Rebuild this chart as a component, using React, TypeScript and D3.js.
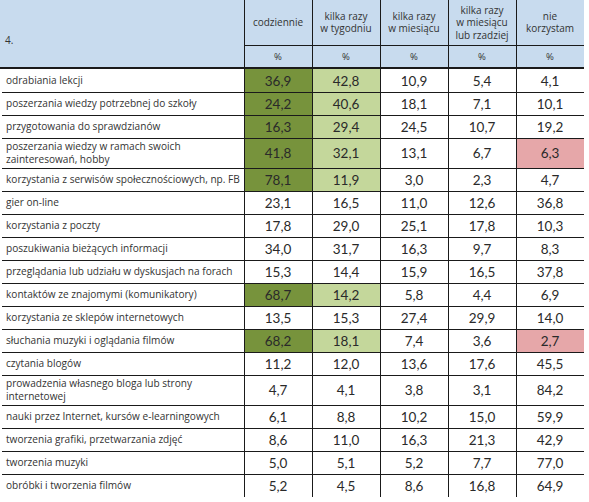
import React from "react";
import * as d3 from "d3";

const title = "4.";
const columns = ["codziennie", "kilka razy\nw tygodniu", "kilka razy\nw miesiącu", "kilka razy\nw miesiącu\nlub rzadziej", "nie\nkorzystam"];
const unitLabel = "%";
const categories = [
  "odrabiania lekcji",
  "poszerzania wiedzy potrzebnej do szkoły",
  "przygotowania do sprawdzianów",
  "poszerzania wiedzy w ramach swoich\nzainteresowań, hobby",
  "korzystania z serwisów społecznościowych, np. FB",
  "gier on-line",
  "korzystania z poczty",
  "poszukiwania bieżących informacji",
  "przeglądania lub udziału w dyskusjach na forach",
  "kontaktów ze znajomymi (komunikatory)",
  "korzystania ze sklepów internetowych",
  "słuchania muzyki i oglądania filmów",
  "czytania blogów",
  "prowadzenia własnego bloga lub strony\ninternetowej",
  "nauki przez Internet, kursów e-learningowych",
  "tworzenia grafiki, przetwarzania zdjęć",
  "tworzenia muzyki",
  "obróbki i tworzenia filmów",
];
const daily = [36.9, 24.2, 16.3, 41.8, 78.1, 23.1, 17.8, 34.0, 15.3, 68.7, 13.5, 68.2, 11.2, 4.7, 6.1, 8.6, 5.0, 5.2];
const weekly = [42.8, 40.6, 29.4, 32.1, 11.9, 16.5, 29.0, 31.7, 14.4, 14.2, 15.3, 18.1, 12.0, 4.1, 8.8, 11.0, 5.1, 4.5];
const monthly = [10.9, 18.1, 24.5, 13.1, 3.0, 11.0, 25.1, 16.3, 15.9, 5.8, 27.4, 7.4, 13.6, 3.8, 10.2, 16.3, 5.2, 8.6];
const rarely = [5.4, 7.1, 10.7, 6.7, 2.3, 12.6, 17.8, 9.7, 16.5, 4.4, 29.9, 3.6, 17.6, 3.1, 15.0, 21.3, 7.7, 16.8];
const never = [4.1, 10.1, 19.2, 6.3, 4.7, 36.8, 10.3, 8.3, 37.8, 6.9, 14.0, 2.7, 45.5, 84.2, 59.9, 42.9, 77.0, 64.9];
// rows highlighted as most frequently used (daily + weekly), and rows with lowest "nie korzystam"
const frequentRows = [0, 1, 2, 3, 4, 9, 11];
const lowNeverRows = [3, 11];

const W = 589;
const H = 502;
const tableLeft = 0;
const dataLeft = 244;
const tableRight = 584;
const headerRow1 = 45;
const headerBottom = 67;
const dataTop = 69;
const singleRow = 23;
const doubleRow = 30;

const DARK_GREEN = "#77933c";
const LIGHT_GREEN = "#c4d79b";
const PINK = "#e6a7a9";
const HEADER_BG = "#c8dbee";
const LINE = "#1a1a1a";
const TEXT = "#333333";
const fmt = (v: number) => v.toFixed(1).replace(".", ",");

export default function App() {
  const series = [daily, weekly, monthly, rarely, never];
  const x = d3.scaleBand<number>().domain(d3.range(columns.length)).range([dataLeft, tableRight]).padding(0);
  const heights = categories.map((c) => (c.includes("\n") ? doubleRow : singleRow));
  const ends = Array.from(d3.cumsum(heights));
  const tops = ends.map((e, i) => dataTop + e - heights[i]);
  const bottom = dataTop + ends[ends.length - 1];
  const labelFont = "'Open Sans', 'DejaVu Sans', sans-serif";
  const numFont = "Lato, 'Open Sans', sans-serif";

  return (
    <svg width={W} height={H} style={{ position: "absolute", left: 0, top: 0, background: "#fff" }}>
      <rect x={0} y={0} width={W} height={H} fill="#fff" />
      {/* header */}
      <rect x={tableLeft} y={0} width={tableRight - tableLeft} height={headerBottom} fill={HEADER_BG} />
      <text x={5} y={44} fontFamily={labelFont} fontSize={10} fill={TEXT}>{title}</text>
      {columns.map((c, j) => {
        const lines = c.split("\n");
        const cx = x(j)! + x.bandwidth() / 2;
        const lh = 12.5;
        const y0 = headerRow1 / 2 - ((lines.length - 1) * lh) / 2 + 3.5;
        return (
          <g key={"h" + j}>
            {lines.map((l, k) => (
              <text key={k} x={cx} y={y0 + k * lh} textAnchor="middle" fontFamily={labelFont} fontSize={10} fill={TEXT}>{l}</text>
            ))}
            <text x={cx} y={(headerRow1 + headerBottom) / 2 + 3.5} textAnchor="middle" fontFamily={labelFont} fontSize={9.5} fill={TEXT}>{unitLabel}</text>
          </g>
        );
      })}
      <line x1={dataLeft} x2={tableRight} y1={headerRow1 + 0.5} y2={headerRow1 + 0.5} stroke={LINE} strokeWidth={1} />
      {/* colored cells */}
      {categories.map((_, i) => (
        <g key={"c" + i}>
          {frequentRows.includes(i) && (
            <>
              <rect x={x(0)!} y={tops[i]} width={x.bandwidth()} height={heights[i]} fill={DARK_GREEN} />
              <rect x={x(1)!} y={tops[i]} width={x.bandwidth()} height={heights[i]} fill={LIGHT_GREEN} />
            </>
          )}
          {lowNeverRows.includes(i) && (
            <rect x={x(4)!} y={tops[i]} width={x.bandwidth()} height={heights[i]} fill={PINK} />
          )}
        </g>
      ))}
      {/* horizontal lines */}
      <line x1={tableLeft} x2={tableRight} y1={headerBottom + 1} y2={headerBottom + 1} stroke={LINE} strokeWidth={2} />
      {ends.slice(0, -1).map((e, i) => (
        <line key={"r" + i} x1={tableLeft + 2} x2={tableRight} y1={dataTop + e + 0.5} y2={dataTop + e + 0.5} stroke={LINE} strokeWidth={1} />
      ))}
      {/* vertical lines */}
      {d3.range(columns.length).map((j) => (
        <line key={"v" + j} x1={x(j)! + 0.5} x2={x(j)! + 0.5} y1={0} y2={bottom} stroke={LINE} strokeWidth={1} />
      ))}
      {/* labels and values */}
      {categories.map((c, i) => {
        const lines = c.split("\n");
        const cy = tops[i] + heights[i] / 2;
        const lh = 13.5;
        return (
          <g key={"t" + i}>
            {lines.map((l, k) => (
              <text key={k} x={6} y={cy - ((lines.length - 1) * lh) / 2 + k * lh + 3.5} fontFamily={labelFont} fontSize={10.1} fill={TEXT}>{l}</text>
            ))}
            {series.map((s, j) => (
              <text key={"v" + j} x={x(j)! + x.bandwidth() / 2} y={cy + 5} textAnchor="middle" fontFamily={numFont} fontSize={13.5} fill="#2a2a2a">{fmt(s[i])}</text>
            ))}
          </g>
        );
      })}
    </svg>
  );
}
